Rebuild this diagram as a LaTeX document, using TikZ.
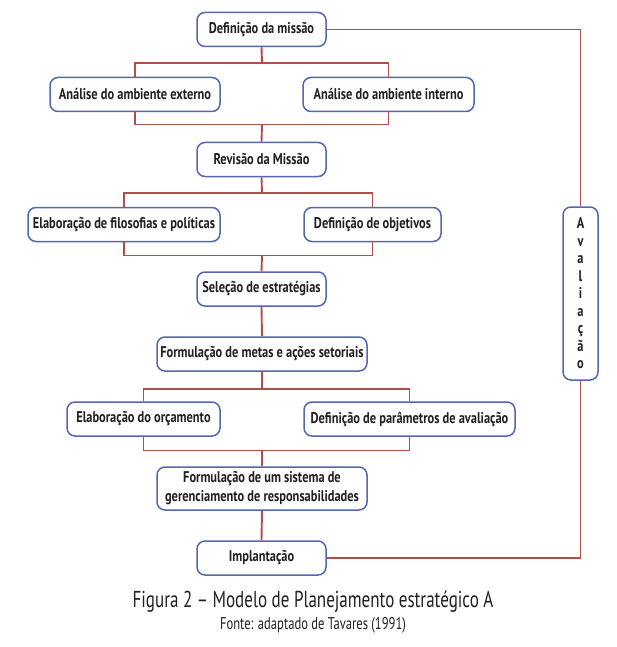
\documentclass[tikz,border=0pt]{standalone}
\usepackage{fontspec}
\setmainfont{PT Sans}[FakeStretch=0.8]
\newfontfamily\capfont{PT Sans}[FakeStretch=0.74]
\definecolor{boxblue}{HTML}{5566B2}
\definecolor{linered}{HTML}{B24E4A}
\definecolor{txt}{HTML}{231F20}
\tikzset{
  box/.style={draw=boxblue, line width=1.5pt, rounded corners=8pt, fill=white,
    minimum height=34pt, inner sep=2pt, align=center, text=txt,
    font=\fontsize{15.5}{17}\selectfont\bfseries},
  conn/.style={draw=linered, line width=1.9pt},
}
\begin{document}
\begin{tikzpicture}[x=1pt,y=-1pt]
\useasboundingbox (0,0) rectangle (617,647);
\coordinate (j1) at (262,63);
\coordinate (j2) at (262,124.5);
\coordinate (j3) at (262,193);
\coordinate (j4) at (262,255.5);
\coordinate (j5) at (262,389);
\coordinate (j6) at (262,450.5);

\node[box, minimum width=129pt] (def) at (261.5,29.5) {Definição da missão};
\node[box, minimum width=170pt] (ext) at (135,94.5) {Análise do ambiente externo};
\node[box, minimum width=171pt] (int) at (388.5,94.5) {Análise do ambiente interno};
\node[box, minimum width=129pt] (rev) at (261.5,159.5) {Revisão da Missão};
\node[box, minimum width=192pt] (fil) at (124,224.5) {Elaboração de filosofias e políticas};
\node[box, minimum width=137pt] (obj) at (372.5,224.5) {Definição de objetivos};
\node[box, minimum width=129pt] (sel) at (261.5,289) {Seleção de estratégias};
\node[box, minimum width=210pt] (met) at (262,354) {Formulação de metas e ações setoriais};
\node[box, minimum width=153pt] (orc) at (143.5,419) {Elaboração do orçamento};
\node[box, minimum width=211pt] (par) at (409.5,419) {Definição de parâmetros de avaliação};
\node[box, minimum width=210pt, minimum height=43pt, font=\fontsize{15.5}{19}\selectfont\bfseries] (sis) at (262,488.5) {Formulação de um sistema de\\gerenciamento de responsabilidades};
\node[box, minimum width=129pt] (imp) at (261.5,558) {Implantação};
\node[box, minimum width=35pt, minimum height=173pt, font=\fontsize{15.5}{17.5}\selectfont\bfseries] (ava) at (580.5,293.5) {A\\v\\a\\l\\i\\a\\ç\\ã\\o};

\draw[conn] (def.south) -- (j1);
\draw[conn] (ext.north) |- (j1) -| (int.north);
\draw[conn] (ext.south) |- (j2) -| (int.south);
\draw[conn] (j2) -- (rev.north);
\draw[conn] (rev.south) -- (j3);
\draw[conn] (fil.north) |- (j3) -| (obj.north);
\draw[conn] (fil.south) |- (j4) -| (obj.south);
\draw[conn] (j4) -- (sel.north);
\draw[conn] (sel.south) -- (met.north);
\draw[conn] (met.south) -- (j5);
\draw[conn] (orc.north) |- (j5) -| (par.north);
\draw[conn] (orc.south) |- (j6) -| (par.south);
\draw[conn] (j6) -- (sis.north);
\draw[conn] (sis.south) -- (imp.north);
\draw[conn] (def.east) -| (ava.north);
\draw[conn] (ava.south) |- (imp.east);

\node[text=txt, font=\capfont\fontsize{23}{25}\selectfont] (cap) at (313,602) {Figura 2 – Modelo de Planejamento estratégico A};
\node[text=txt, font=\capfont\fontsize{17}{19}\selectfont] (src) at (313,625) {Fonte: adaptado de Tavares (1991)};
\end{tikzpicture}
\end{document}
